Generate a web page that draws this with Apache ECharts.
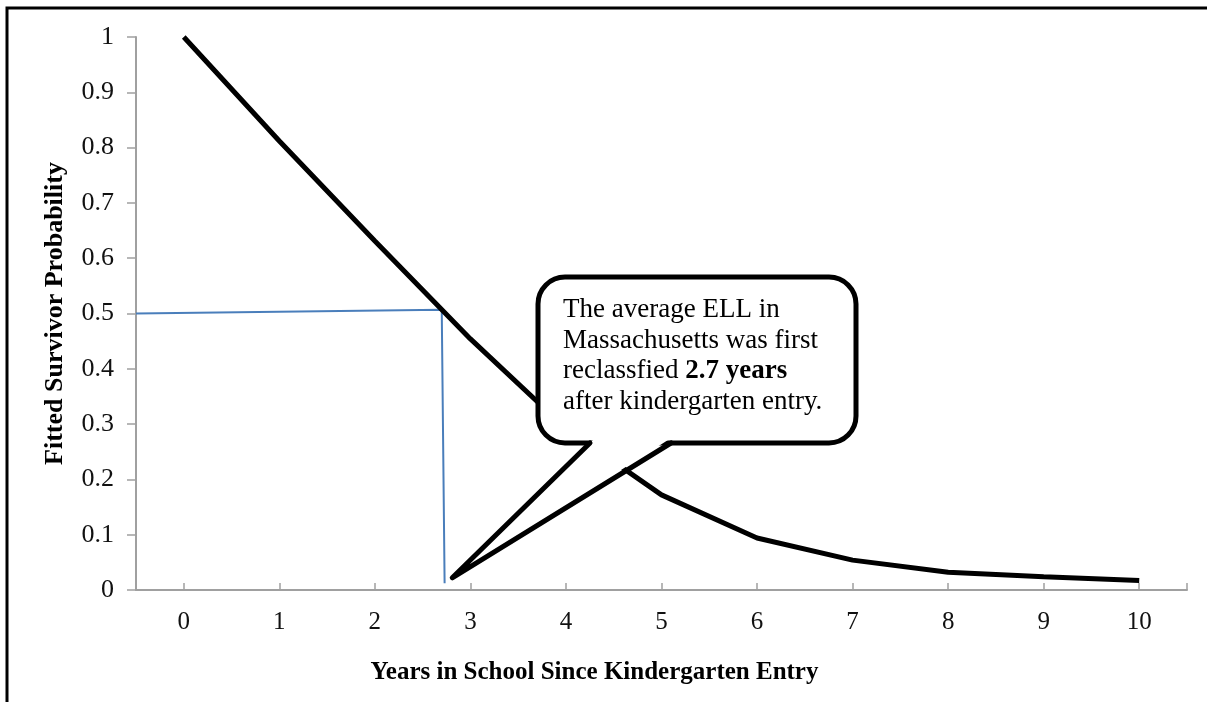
<!DOCTYPE html>
<html>
<head>
<meta charset="utf-8">
<script src="https://cdn.jsdelivr.net/npm/echarts@6/dist/echarts.min.js"></script>
<style>
    html, body { margin: 0; padding: 0; background: #fff; }
    #chart { width: 1207px; height: 702px; }
</style>
</head>
<body>
<div id="chart"></div>
<script>
    // data
    var years = [0, 1, 2, 3, 4, 5, 6, 7, 8, 9, 10];
    var survival = [1.0, 0.812, 0.631, 0.454, 0.292, 0.172, 0.094, 0.054, 0.032, 0.024, 0.017];
    // median guide (blue), from the y axis over to 2.7 years and down
    var medianX = [-0.5, 2.7, 2.73];
    var medianY = [0.5, 0.507, 0.012];
    var xTickValues = [0, 1, 2, 3, 4, 5, 6, 7, 8, 9, 10, 10.5];
    var xLabelValues = [0, 1, 2, 3, 4, 5, 6, 7, 8, 9, 10];
    var calloutTip = [2.81, 0.022];

    var serif = '"Liberation Serif", "Times New Roman", serif';

    var myChart = echarts.init(document.getElementById('chart'));

    function pairs(xs, ys) {
        var out = [];
        for (var i = 0; i < xs.length; i++) out.push([xs[i], ys[i]]);
        return out;
    }

    var option = {
        animation: false,
        backgroundColor: '#fff',
        grid: { left: 136, right: 20, top: 37, bottom: 112 },
        xAxis: {
            type: 'value',
            min: -0.5,
            max: 10.5,
            name: 'Years in School Since Kindergarten Entry',
            nameLocation: 'middle',
            nameGap: 70,
            nameTextStyle: { fontFamily: serif, fontSize: 25, fontWeight: 'bold', color: '#000', padding: [0, 134, 0, 0] },
            axisLine: { show: true, onZero: false, lineStyle: { color: '#a0a0a0', width: 2 } },
            axisTick: { show: true, inside: true, length: 7, customValues: xTickValues, lineStyle: { color: '#a0a0a0', width: 1.5 } },
            axisLabel: { customValues: xLabelValues, margin: 20, fontFamily: serif, fontSize: 25, color: '#111' },
            splitLine: { show: false }
        },
        yAxis: {
            type: 'value',
            min: 0,
            max: 1,
            interval: 0.1,
            name: 'Fitted Survivor Probability',
            nameLocation: 'middle',
            nameGap: 68,
            nameTextStyle: { fontFamily: serif, fontSize: 26, fontWeight: 'bold', color: '#000' },
            axisLine: { show: true, onZero: false, lineStyle: { color: '#a0a0a0', width: 2 } },
            axisTick: { show: true, length: 9, lineStyle: { color: '#a0a0a0', width: 1.5 } },
            axisLabel: { margin: 22, fontFamily: serif, fontSize: 26, color: '#111' },
            splitLine: { show: false }
        },
        series: [
            {
                type: 'line',
                data: pairs(years, survival),
                showSymbol: false,
                lineStyle: { color: '#000', width: 5 },
                z: 3
            },
            {
                type: 'line',
                data: pairs(medianX, medianY),
                showSymbol: false,
                lineStyle: { color: '#4a7ebb', width: 2 },
                z: 2
            }
        ]
    };
    myChart.setOption(option);

    // speech bubble, tail points at the 2.7 year mark
    var tip = myChart.convertToPixel({ gridIndex: 0 }, calloutTip);
    var L = 538, T = 277, R = 856, B = 443, b1 = 592, b2 = 669;

    myChart.setOption({
        graphic: [
            {
                type: 'rect',
                shape: { x: 7, y: 8, width: 1300, height: 800 },
                style: { fill: 'none', stroke: '#000', lineWidth: 3 },
                z: 50
            },
            {
                type: 'rect',
                shape: { x: L, y: T, width: R - L, height: B - T, r: 27 },
                style: { fill: '#fff', stroke: '#000', lineWidth: 5 },
                z: 100
            },
            {
                type: 'polygon',
                shape: { points: [[b1 + 1, B - 3], tip, [b2 - 1, B - 3]] },
                style: { fill: '#fff', stroke: 'none' },
                z: 101
            },
            {
                type: 'polyline',
                shape: { points: [[b1 - 2, B], tip, [b2 + 2, B]] },
                style: { fill: 'none', stroke: '#000', lineWidth: 5, lineJoin: 'round', lineCap: 'round' },
                z: 102
            },
            {
                type: 'text',
                x: 563,
                y: 295,
                z: 103,
                style: {
                    text: 'The average ELL in\nMassachusetts was first\nreclassfied {b|2.7 years}\nafter kindergarten entry.',
                    font: '27px ' + serif,
                    fill: '#000',
                    lineHeight: 30.5,
                    rich: {
                        b: { fontFamily: serif, fontSize: 27, fontWeight: 'bold', fill: '#000', lineHeight: 30.5 }
                    }
                }
            }
        ]
    });
</script>
</body>
</html>
